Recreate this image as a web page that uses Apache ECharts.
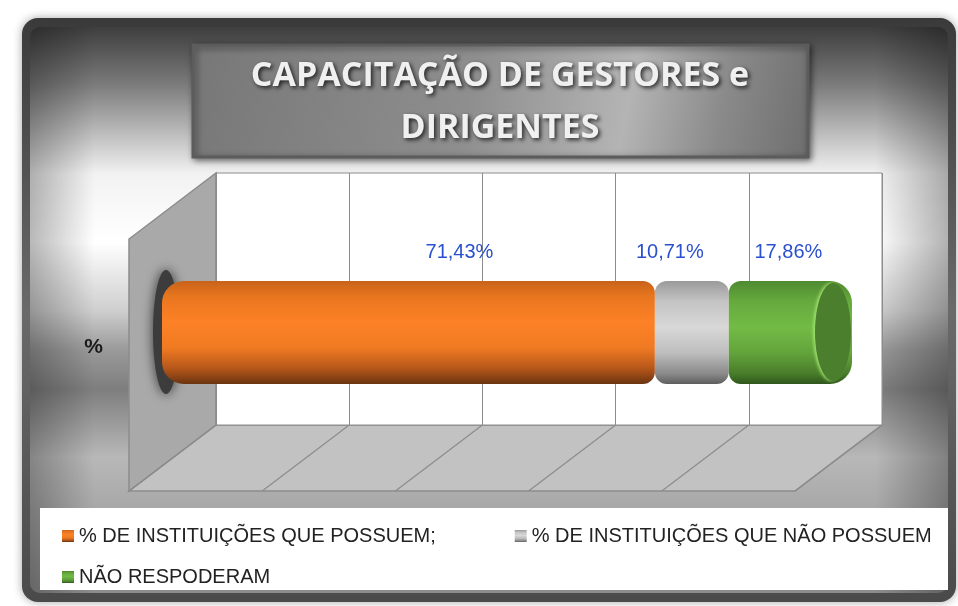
<!DOCTYPE html>
<html>
<head>
<meta charset="utf-8">
<script src="https://cdn.jsdelivr.net/npm/echarts@6/dist/echarts.min.js"></script>
<style>
    html, body {margin: 0; padding: 0; background: #ffffff;}
    #main {width: 958px; height: 606px;}
</style>
</head>
<body>
<div id="main"></div>
<script>
// dados do gráfico
var categorias = ['%']
var nomes = ['% DE INSTITUIÇÕES QUE POSSUEM;', '% DE INSTITUIÇÕES QUE NÃO POSSUEM', 'NÃO RESPODERAM']
var possuem = [71.43]
var naoPossuem = [10.71]
var naoResponderam = [17.86]
var ticks = [0, 20, 40, 60, 80, 100]
var titulo = 'CAPACITAÇÃO DE GESTORES e\nDIRIGENTES'

// parede do fundo (grid 0) e profundidade do "3D"
var parede = {left: 216, right: 882, top: 173, bottom: 425}
var dx = -87, dy = 66

function grad(stops) {
    return new echarts.graphic.LinearGradient(0, 0, 0, 1, stops.map(function (s) {
        return {offset: s[0], color: s[1]}
    }))
}

var corLaranja = grad([[0, '#c8621a'], [0.15, '#e8761f'], [0.4, '#fd8126'], [0.65, '#f07a22'], [0.85, '#b5561a'], [1, '#6b3410']])
var corCinza = grad([[0, '#9a9a9a'], [0.2, '#c4c4c4'], [0.45, '#d8d8d8'], [0.7, '#bdbdbd'], [0.9, '#8a8a8a'], [1, '#5e5e5e']])
var corVerde = grad([[0, '#4f8a30'], [0.2, '#66aa3e'], [0.45, '#72bb46'], [0.7, '#63a33b'], [0.9, '#487d2a'], [1, '#30561c']])

function rotulo(dxLabel) {
    return {
        show: true,
        position: 'top',
        distance: 19,
        offset: [dxLabel, 0],
        color: '#2a50d0',
        fontSize: 20,
        fontFamily: 'Liberation Sans',
        formatter: function (p) {
            return p.value.toFixed(2).replace('.', ',') + '%'
        }
    }
}

var chartDom = document.getElementById('main')
var myChart = echarts.init(chartDom)
var option

var fonteLegenda = {fontSize: 20, color: '#222', fontFamily: 'Liberation Sans'}

option = {
    animation: false,
    backgroundColor: '#ffffff',
    legend: [
        {
            data: [nomes[0], nomes[1]],
            left: 57,
            top: 521,
            itemWidth: 12,
            itemHeight: 12,
            itemGap: 79,
            icon: 'rect',
            textStyle: fonteLegenda
        },
        {
            data: [nomes[2]],
            left: 57,
            top: 562,
            itemWidth: 12,
            itemHeight: 12,
            icon: 'rect',
            textStyle: fonteLegenda
        }
    ],
    grid: [
        {   // parede do fundo
            left: parede.left,
            right: 958 - parede.right,
            top: parede.top,
            bottom: 606 - parede.bottom,
            show: true,
            backgroundColor: '#ffffff',
            borderColor: '#8c8c8c',
            borderWidth: 1
        },
        {   // cilindro no meio da profundidade
            left: 162,
            right: 106,
            top: 281,
            height: 103
        }
    ],
    xAxis: [
        {
            gridIndex: 0, type: 'value', min: 0, max: 100, interval: 20,
            axisLine: {show: false}, axisTick: {show: false}, axisLabel: {show: false},
            splitLine: {show: true, lineStyle: {color: '#8c8c8c', width: 1}}
        },
        {
            gridIndex: 1, type: 'value', min: 0, max: 100, show: false
        }
    ],
    yAxis: [
        {gridIndex: 0, type: 'value', show: false},
        {
            gridIndex: 1, type: 'category', data: categorias,
            axisLine: {show: false}, axisTick: {show: false},
            axisLabel: {
                margin: 59, fontSize: 21, fontWeight: 'bold', color: '#1a1a1a',
                fontFamily: 'Liberation Sans', verticalAlign: 'top', lineHeight: 30
            }
        }
    ],
    series: [
        {
            name: nomes[0], type: 'bar', stack: 'total', xAxisIndex: 1, yAxisIndex: 1,
            barWidth: 103, data: possuem,
            itemStyle: {color: corLaranja, borderRadius: [22, 12, 12, 22]},
            label: rotulo(51)
        },
        {
            name: nomes[1], type: 'bar', stack: 'total', xAxisIndex: 1, yAxisIndex: 1,
            barWidth: 103, data: naoPossuem,
            itemStyle: {color: corCinza, borderRadius: 12},
            label: rotulo(-22)
        },
        {
            name: nomes[2], type: 'bar', stack: 'total', xAxisIndex: 1, yAxisIndex: 1,
            barWidth: 103, data: naoResponderam,
            itemStyle: {color: corVerde, borderRadius: [12, 22, 22, 12]},
            label: rotulo(-2)
        }
    ]
};
option && myChart.setOption(option);

// moldura, título e paredes 3D (posições tiradas das escalas)
var elems = []
elems.push({
    type: 'rect', z: -20, silent: true,
    shape: {x: 22, y: 18, width: 934, height: 584, r: 16},
    style: {
        fill: grad([[0, '#3a3a3a'], [0.5, '#6a6a6a'], [1, '#4a4a4a']]),
        shadowBlur: 10, shadowColor: 'rgba(0,0,0,0.35)'
    }
})
elems.push({
    type: 'rect', z: -19, silent: true,
    shape: {x: 30, y: 27, width: 918, height: 566, r: 10},
    style: {
        fill: grad([[0, '#3e3e3e'], [0.1, '#7a7a7a'], [0.26, '#f2f2f2'], [0.38, '#ffffff'],
            [0.5, '#cfcfcf'], [0.57, '#9a9a9a'], [0.64, '#7e7e7e'], [0.76, '#b8b8b8'], [1, '#8c8c8c']])
    }
})
elems.push({
    type: 'rect', z: -18, silent: true,
    shape: {x: 30, y: 27, width: 918, height: 566, r: 10},
    style: {
        fill: new echarts.graphic.LinearGradient(0, 0, 1, 0, [
            {offset: 0, color: 'rgba(0,0,0,0.28)'}, {offset: 0.07, color: 'rgba(0,0,0,0)'},
            {offset: 0.92, color: 'rgba(0,0,0,0)'}, {offset: 1, color: 'rgba(0,0,0,0.3)'}])
    }
})
// caixa da legenda
elems.push({
    type: 'rect', z: -10, silent: true,
    shape: {x: 40, y: 508, width: 908, height: 82},
    style: {fill: '#ffffff'}
})
// caixa do título
elems.push({
    type: 'rect', z: -10, silent: true,
    shape: {x: 193, y: 45, width: 615, height: 112},
    style: {
        fill: new echarts.graphic.LinearGradient(0, 0, 1, 1, [
            {offset: 0, color: '#777777'}, {offset: 0.45, color: '#8e8e8e'},
            {offset: 0.7, color: '#b4b4b4'}, {offset: 0.85, color: '#8a8a8a'}, {offset: 1, color: '#6e6e6e'}]),
        stroke: '#5c5c5c', lineWidth: 3,
        shadowBlur: 6, shadowColor: 'rgba(0,0,0,0.5)', shadowOffsetX: 2, shadowOffsetY: 2
    }
})
elems.push({
    type: 'text', z: 10, silent: true,
    style: {
        x: 500, y: 102, text: titulo, align: 'center', verticalAlign: 'middle',
        font: 'bold 34px "Open Sans"', lineHeight: 52, fill: '#f0f0f0',
        textShadowColor: 'rgba(0,0,0,0.75)', textShadowBlur: 4, textShadowOffsetX: 2, textShadowOffsetY: 2
    }
})
// chão e parede lateral
elems.push({
    type: 'polygon', z: -5, silent: true,
    shape: {points: [[parede.left, parede.bottom], [parede.right, parede.bottom],
        [parede.right + dx, parede.bottom + dy], [parede.left + dx, parede.bottom + dy]]},
    style: {fill: '#c2c2c2', stroke: '#8c8c8c', lineWidth: 1.5}
})
elems.push({
    type: 'polygon', z: -5, silent: true,
    shape: {points: [[parede.left, parede.top], [parede.left, parede.bottom],
        [parede.left + dx, parede.bottom + dy], [parede.left + dx, parede.top + dy]]},
    style: {fill: '#a9a9a9', stroke: '#8c8c8c', lineWidth: 1.5}
})
ticks.forEach(function (t) {
    var x = myChart.convertToPixel({xAxisIndex: 0}, t)
    elems.push({
        type: 'line', z: -4, silent: true,
        shape: {x1: x, y1: parede.bottom, x2: x + dx, y2: parede.bottom + dy},
        style: {stroke: '#8c8c8c', lineWidth: 1.2}
    })
})
// sombra na base do cilindro e tampa do fim
var x0 = myChart.convertToPixel({xAxisIndex: 1}, 0)
var xFim = myChart.convertToPixel({xAxisIndex: 1}, possuem[0] + naoPossuem[0] + naoResponderam[0])
elems.push({
    type: 'ellipse', z: 1, silent: true,
    shape: {cx: x0 + 4, cy: 332, rx: 13, ry: 62},
    style: {fill: '#3c3c3c', shadowBlur: 12, shadowColor: 'rgba(0,0,0,0.7)'}
})
elems.push({
    type: 'ellipse', z: 5, silent: true,
    shape: {cx: xFim - 19, cy: 332, rx: 18, ry: 49},
    style: {fill: '#4b7e2d', shadowBlur: 3, shadowColor: 'rgba(160,230,110,0.9)', shadowOffsetX: -2}
})
myChart.setOption({graphic: elems})
</script>
</body>
</html>
